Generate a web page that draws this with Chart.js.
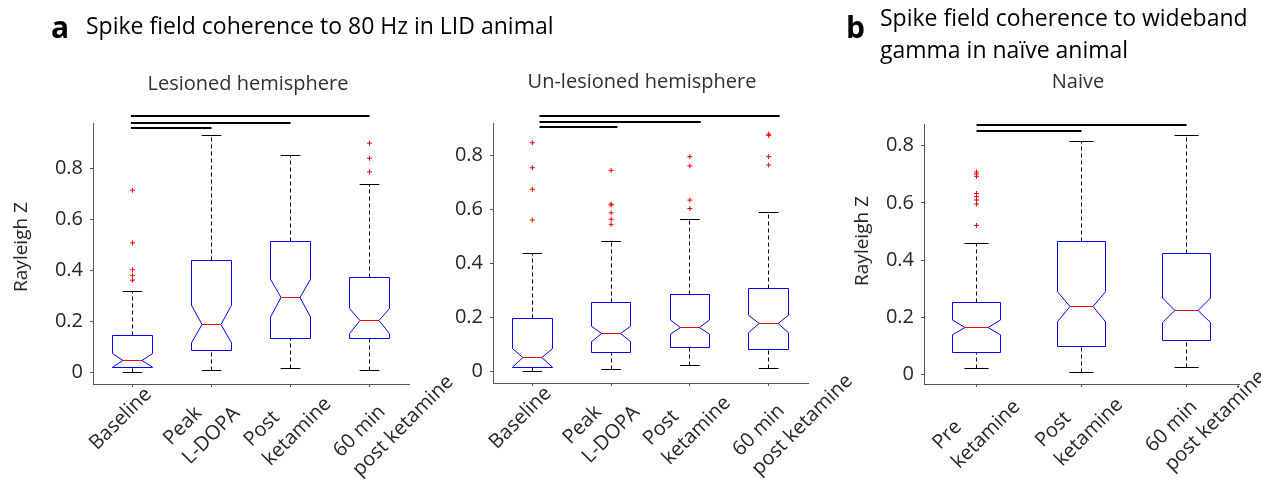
<!DOCTYPE html>
<html>
<head>
<meta charset="utf-8">
<script src="https://cdn.jsdelivr.net/npm/chart.js@4.4.1/dist/chart.umd.min.js"></script>
<style>
  body { margin: 0; background: #fff; }
  #wrap { position: relative; width: 1261px; height: 484px; overflow: hidden; font-family: 'Open Sans', 'Noto Sans', sans-serif; }
  #wrap canvas { position: absolute; left: 0; top: 0; }
  .txt { position: absolute; line-height: 1; white-space: nowrap; }
  .letter { font-size: 30px; font-weight: bold; color: #000; }
  .title { font-size: 23px; color: #000; }
  .sub { font-size: 20px; color: #303030; width: 300px; text-align: center; }
</style>
</head>
<body>
<div id="wrap">
  <canvas id="lesioned" width="1261" height="484"></canvas>
  <canvas id="unlesioned" width="1261" height="484"></canvas>
  <canvas id="naive" width="1261" height="484"></canvas>

  <div class="txt letter" style="left:51px;top:12px">a</div>
  <div class="txt title" style="left:86px;top:14px">Spike field coherence to 80 Hz in LID animal</div>
  <div class="txt letter" style="left:846px;top:12px">b</div>
  <div class="txt title" style="left:880px;top:2px;line-height:31.6px">Spike field coherence to wideband<br>gamma in naïve animal</div>

  <div class="txt sub" style="left:98px;top:73px">Lesioned hemisphere</div>
  <div class="txt sub" style="left:492px;top:71px">Un-lesioned hemisphere</div>
  <div class="txt sub" style="left:928px;top:71px">Naive</div>
</div>

<script>
// ---- data ----
const yTicks = [0, 0.2, 0.4, 0.6, 0.8];

// a: LID animal, lesioned hemisphere
const lidLabels = [['Baseline'], ['Peak', 'L-DOPA'], ['Post', 'ketamine'], ['60 min', 'post ketamine']];
const lesMedian = [0.049, 0.19, 0.294, 0.203];
const lesQ1 = [0.022, 0.087, 0.134, 0.134];
const lesQ3 = [0.146, 0.44, 0.513, 0.374];
const lesNotchLo = [0.022, 0.117, 0.218, 0.153];
const lesNotchHi = [0.075, 0.264, 0.366, 0.251];
const lesWhiskLo = [0, 0.009, 0.017, 0.007];
const lesWhiskHi = [0.318, 0.929, 0.848, 0.737];
const lesOutliers = [[0.714, 0.508, 0.403, 0.381, 0.362], [], [], [0.898, 0.839, 0.786]];
const lesSigFrom = 0.98;
const lesSigTo = [4, 3, 2];
const lesSigLevel = [1.003, 0.978, 0.958];

// a: LID animal, un-lesioned hemisphere
const unlMedian = [0.051, 0.14, 0.163, 0.175];
const unlQ1 = [0.014, 0.068, 0.089, 0.08];
const unlQ3 = [0.195, 0.255, 0.282, 0.305];
const unlNotchLo = [0.014, 0.109, 0.137, 0.142];
const unlNotchHi = [0.083, 0.166, 0.189, 0.207];
const unlWhiskLo = [0, 0.006, 0.019, 0.011];
const unlWhiskHi = [0.437, 0.481, 0.563, 0.589];
const unlOutliers = [[0.847, 0.754, 0.674, 0.56], [0.744, 0.619, 0.616, 0.587, 0.563, 0.544], [0.795, 0.761, 0.634, 0.603], [0.879, 0.874, 0.795, 0.764]];
const unlSigFrom = 1.09;
const unlSigTo = [4.14, 3.14, 2.08];
const unlSigLevel = [0.946, 0.925, 0.904];

// b: naive animal
const naiveLabels = [['Pre', 'ketamine'], ['Post', 'ketamine'], ['60 min', 'post ketamine']];
const naiveMedian = [0.164, 0.237, 0.224];
const naiveQ1 = [0.076, 0.098, 0.119];
const naiveQ3 = [0.252, 0.465, 0.422];
const naiveNotchLo = [0.138, 0.184, 0.181];
const naiveNotchHi = [0.19, 0.289, 0.267];
const naiveWhiskLo = [0.02, 0.006, 0.024];
const naiveWhiskHi = [0.457, 0.814, 0.835];
const naiveOutliers = [[0.708, 0.701, 0.693, 0.633, 0.622, 0.61, 0.596, 0.521], [], []];
const naiveSigFrom = 1;
const naiveSigTo = [3, 2];
const naiveSigLevel = [0.871, 0.852];

// ---- style / layout ----
const W = 1261, H = 484;
const family = "'Open Sans', 'Noto Sans', sans-serif";
const axisColor = '#555555';
const textColor = '#262626';
const lineGap = 27;

function snap(v) { return Math.round(v - 0.5) + 0.5; }

function boxPlugin(p) {
  return {
    id: 'boxes',
    beforeDatasetsDraw(chart) {
      const { ctx, scales: { x, y } } = chart;
      const px = v => x.getPixelForValue(v);
      const py = v => y.getPixelForValue(v);
      const seg = (x1, y1, x2, y2) => { ctx.beginPath(); ctx.moveTo(x1, y1); ctx.lineTo(x2, y2); ctx.stroke(); };
      ctx.save();
      ctx.lineWidth = 1;
      p.median.forEach((m, i) => {
        const c = i + 1;
        const xc = snap(px(c));
        const xl = snap(px(c - p.boxHalf)), xr = snap(px(c + p.boxHalf));
        const nl = px(c - p.notchHalf), nr = px(c + p.notchHalf);
        const cl = px(c - p.capHalf), cr = px(c + p.capHalf);
        const yq1 = snap(py(p.q1[i])), yq3 = snap(py(p.q3[i]));
        const ym = snap(py(m));
        const yhi = snap(py(p.whiskHi[i])), ylo = snap(py(p.whiskLo[i]));

        // whiskers
        ctx.strokeStyle = '#000';
        ctx.setLineDash([4, 3]);
        seg(xc, yq3, xc, yhi);
        seg(xc, ylo, xc, yq1);
        ctx.setLineDash([]);
        seg(cl, yhi, cr, yhi);
        seg(cl, ylo, cr, ylo);

        // notched box
        const ynl = py(p.notchLo[i]), ynh = py(p.notchHi[i]);
        ctx.strokeStyle = '#0000ff';
        ctx.beginPath();
        ctx.moveTo(xl, yq1);
        ctx.lineTo(xl, ynl);
        ctx.lineTo(nl, ym);
        ctx.lineTo(xl, ynh);
        ctx.lineTo(xl, yq3);
        ctx.lineTo(xr, yq3);
        ctx.lineTo(xr, ynh);
        ctx.lineTo(nr, ym);
        ctx.lineTo(xr, ynl);
        ctx.lineTo(xr, yq1);
        ctx.closePath();
        ctx.stroke();

        // median
        ctx.strokeStyle = '#ff0000';
        seg(nl, ym, nr, ym);
      });
      ctx.restore();
    },
    afterDraw(chart) {
      const { ctx, scales: { x, y }, chartArea } = chart;
      ctx.save();

      // significance bars
      ctx.strokeStyle = '#000';
      ctx.lineWidth = 2;
      p.sigTo.forEach((to, k) => {
        const yy = Math.round(y.getPixelForValue(p.sigLevel[k]));
        ctx.beginPath();
        ctx.moveTo(x.getPixelForValue(p.sigFrom), yy);
        ctx.lineTo(x.getPixelForValue(to), yy);
        ctx.stroke();
      });

      // rotated category labels, lines left aligned
      ctx.fillStyle = textColor;
      ctx.font = '20px ' + family;
      ctx.textAlign = 'left';
      ctx.textBaseline = 'middle';
      p.labels.forEach((lines, i) => {
        ctx.save();
        ctx.translate(x.getPixelForValue(i + 1), chartArea.bottom + 2);
        ctx.rotate(-Math.PI / 4);
        lines.forEach((t, k) => ctx.fillText(t, -71, p.labelV0[i] + k * lineGap));
        ctx.restore();
      });

      // y axis title
      if (p.yTitle) {
        ctx.save();
        ctx.font = '19px ' + family;
        ctx.textAlign = 'center';
        ctx.translate(p.yTitleX, p.yTitleY);
        ctx.rotate(-Math.PI / 2);
        ctx.fillText(p.yTitle, 0, 0);
        ctx.restore();
      }
      ctx.restore();
    }
  };
}

function boxPanel(id, p) {
  const pts = [];
  p.outliers.forEach((list, i) => list.forEach(v => pts.push({ x: i + 1, y: v })));
  return new Chart(document.getElementById(id), {
    type: 'scatter',
    data: {
      datasets: [{
        data: pts,
        pointStyle: 'cross',
        pointRadius: 2.5,
        borderColor: '#ff0000',
        backgroundColor: '#ff0000',
        borderWidth: 1
      }]
    },
    options: {
      responsive: false,
      animation: false,
      events: [],
      layout: { padding: { left: p.x0, top: p.area.top, right: W - p.area.right, bottom: 0 } },
      plugins: { legend: { display: false }, tooltip: { enabled: false } },
      scales: {
        x: {
          type: 'linear',
          min: 0.5,
          max: p.labels.length + 0.5,
          afterBuildTicks: s => { s.ticks = p.labels.map((l, i) => ({ value: i + 1 })); },
          afterFit: s => { s.height = H - p.area.bottom; },
          ticks: { display: false },
          grid: { drawOnChartArea: false, tickLength: 3, color: axisColor },
          border: { color: axisColor }
        },
        y: {
          type: 'linear',
          min: p.yMin,
          max: p.yMax,
          afterBuildTicks: s => { s.ticks = yTicks.map(v => ({ value: v })); },
          afterFit: s => { s.width = p.area.left - p.x0; },
          ticks: { font: { family: family, size: 20 }, color: textColor, padding: 7, callback: v => String(v) },
          grid: { drawOnChartArea: false, tickLength: 3, color: axisColor },
          border: { color: axisColor }
        }
      }
    },
    plugins: [boxPlugin(p)]
  });
}

boxPanel('lesioned', {
  labels: lidLabels, median: lesMedian, q1: lesQ1, q3: lesQ3, notchLo: lesNotchLo, notchHi: lesNotchHi,
  whiskLo: lesWhiskLo, whiskHi: lesWhiskHi, outliers: lesOutliers,
  sigFrom: lesSigFrom, sigTo: lesSigTo, sigLevel: lesSigLevel,
  yMin: -0.044, yMax: 0.977,
  x0: 0, area: { left: 93, right: 409, top: 123, bottom: 384 },
  boxHalf: 0.25, notchHalf: 0.12, capHalf: 0.125,
  labelV0: [15, 8, 10, 25],
  yTitle: 'Rayleigh Z', yTitleX: 22, yTitleY: 247
});

boxPanel('unlesioned', {
  labels: lidLabels, median: unlMedian, q1: unlQ1, q3: unlQ3, notchLo: unlNotchLo, notchHi: unlNotchHi,
  whiskLo: unlWhiskLo, whiskHi: unlWhiskHi, outliers: unlOutliers,
  sigFrom: unlSigFrom, sigTo: unlSigTo, sigLevel: unlSigLevel,
  yMin: -0.0445, yMax: 0.92,
  x0: 420, area: { left: 493, right: 808, top: 123, bottom: 383 },
  boxHalf: 0.25, notchHalf: 0.12, capHalf: 0.125,
  labelV0: [15, 8, 10, 25]
});

boxPanel('naive', {
  labels: naiveLabels, median: naiveMedian, q1: naiveQ1, q3: naiveQ3, notchLo: naiveNotchLo, notchHi: naiveNotchHi,
  whiskLo: naiveWhiskLo, whiskHi: naiveWhiskHi, outliers: naiveOutliers,
  sigFrom: naiveSigFrom, sigTo: naiveSigTo, sigLevel: naiveSigLevel,
  yMin: -0.034, yMax: 0.876,
  x0: 830, area: { left: 924, right: 1239, top: 124, bottom: 384 },
  boxHalf: 0.225, notchHalf: 0.11, capHalf: 0.115,
  labelV0: [14, 11, 18],
  yTitle: 'Rayleigh Z', yTitleX: 863, yTitleY: 241
});
</script>
</body>
</html>
